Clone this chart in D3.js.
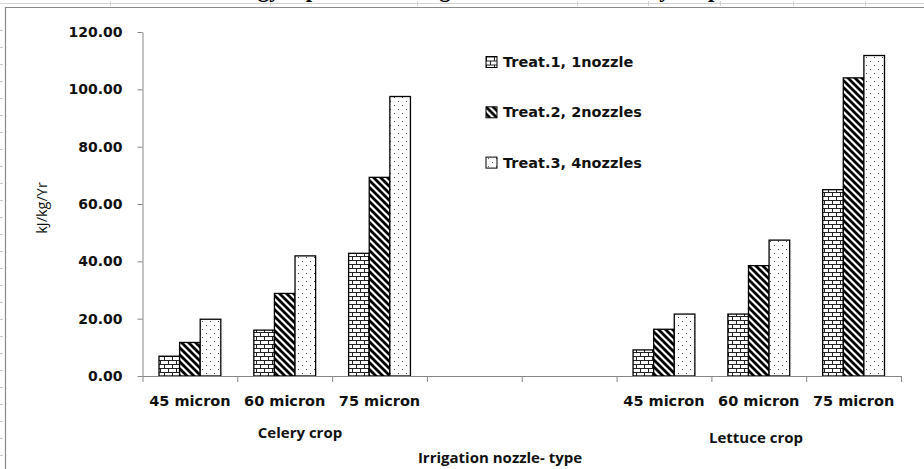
<!DOCTYPE html>
<html>
<head>
<meta charset="utf-8">
<script src="https://cdn.jsdelivr.net/npm/d3@7"></script>
<style>
  body { margin: 0; background: #fff; }
  svg { display: block; }
</style>
</head>
<body>
<svg width="924" height="469"></svg>
<script>
// data
var slots = ["c45", "c60", "c75", "gap1", "gap2", "l45", "l60", "l75"];
var slotLabels = ["45 micron", "60 micron", "75 micron", "", "", "45 micron", "60 micron", "75 micron"];
var groups = ["Celery crop", "Lettuce crop"];
var series = ["Treat.1, 1nozzle", "Treat.2, 2nozzles", "Treat.3, 4nozzles"];
var treat1 = [6.9, 16.0, 42.8, null, null, 9.1, 21.6, 65.0];
var treat2 = [11.7, 28.8, 69.3, null, null, 16.3, 38.5, 104.0];
var treat3 = [19.8, 41.9, 97.5, null, null, 21.6, 47.4, 111.8];
var yTicks = [0, 20, 40, 60, 80, 100, 120];

var values = [treat1, treat2, treat3];

var svg = d3.select("svg");
var defs = svg.append("defs");

// brick pattern
var pb = defs.append("pattern").attr("id", "p0")
    .attr("patternUnits", "userSpaceOnUse").attr("width", 8).attr("height", 8);
pb.append("rect").attr("width", 8).attr("height", 8).attr("fill", "#fff");
pb.append("path")
    .attr("d", "M0,0.5H8M0,4.5H8M0.5,0.5V4.5M4.5,4.5V8")
    .attr("stroke", "#222").attr("stroke-width", 1).attr("fill", "none");

// wide downward diagonal
var pd = defs.append("pattern").attr("id", "p1")
    .attr("patternUnits", "userSpaceOnUse").attr("width", 7).attr("height", 7);
pd.append("rect").attr("width", 7).attr("height", 7).attr("fill", "#fff");
pd.append("path")
    .attr("d", "M-1,-1L8,8M-1,6L1,8M6,-1L8,1")
    .attr("stroke", "#000").attr("stroke-width", 2.8);

// sparse dots
var pp = defs.append("pattern").attr("id", "p2")
    .attr("patternUnits", "userSpaceOnUse").attr("width", 8).attr("height", 8);
pp.append("rect").attr("width", 8).attr("height", 8).attr("fill", "#fff");
pp.append("rect").attr("x", 2).attr("y", 1).attr("width", 1).attr("height", 1).attr("fill", "#444");
pp.append("rect").attr("x", 6).attr("y", 5).attr("width", 1).attr("height", 1).attr("fill", "#444");

// spreadsheet bits behind the chart
svg.append("line").attr("x1", 0).attr("x2", 924).attr("y1", 3.5).attr("y2", 3.5)
    .attr("stroke", "#d4d4d4");
svg.append("g").selectAll("line")
    .data([110, 270, 417, 577, 648, 720, 793, 865])
    .enter().append("line")
    .attr("x1", function(d) { return d + 0.5; }).attr("x2", function(d) { return d + 0.5; })
    .attr("y1", 1).attr("y2", 6)
    .attr("stroke", "#d4d4d4");
// title is cut off by the sheet edge, only descenders show
svg.append("text")
    .attr("x", 465).attr("y", -3)
    .attr("text-anchor", "middle")
    .style("font-family", "'Liberation Serif', serif")
    .style("font-weight", "bold")
    .style("font-size", "23px")
    .text("Energy input of the irrigation nozzles for every crop");

svg.append("path")
    .attr("d", "M5.5,469V7.5H924")
    .attr("fill", "none").attr("stroke", "#8a8a8a").attr("stroke-width", 1.2);

svg.append("g").selectAll("line")
    .data(d3.range(30, 469, 17))
    .enter().append("line")
    .attr("x1", 0).attr("x2", 3).attr("y1", function(d) { return d + 0.5; }).attr("y2", function(d) { return d + 0.5; })
    .attr("stroke", "#c8c8c8");

var x0 = 142.5, x1 = 901;
var y = d3.scaleLinear().domain([0, 120]).range([376, 32]);
var x = d3.scaleBand().domain(slots).range([x0, x1]);
var xs = d3.scaleBand().domain(d3.range(3)).range([16.5, x.bandwidth() - 16.5]);
var xEdge = d3.scaleLinear().domain([0, slots.length]).range([x0, x1]);

// y axis
var gy = svg.append("g")
    .attr("transform", "translate(" + x0 + ",0)")
    .call(d3.axisLeft(y).tickValues(yTicks).tickFormat(d3.format(".2f")).tickSize(5).tickSizeOuter(0));
gy.select(".domain").attr("stroke", "#868686");
gy.selectAll(".tick line").attr("stroke", "#868686");
gy.selectAll(".tick text")
    .attr("x", -20)
    .style("font-family", "'DejaVu Sans', sans-serif")
    .style("font-weight", "bold")
    .style("font-size", "14px")
    .attr("fill", "#111");

// bars
svg.append("g").selectAll("g")
    .data(values)
    .enter().append("g")
    .attr("fill", function(d, i) { return "url(#p" + i + ")"; })
    .each(function(vals, si) {
      d3.select(this).selectAll("rect")
        .data(vals.map(function(v, k) { return {slot: slots[k], v: v}; }).filter(function(d) { return d.v != null; }))
        .enter().append("rect")
        .attr("x", function(d) { return x(d.slot) + xs(si); })
        .attr("width", xs.bandwidth())
        .attr("y", function(d) { return y(d.v); })
        .attr("height", function(d) { return y(0) - y(d.v); })
        .attr("stroke", "#000")
        .attr("stroke-width", 1.3);
    });

// x axis
var gx = svg.append("g")
    .attr("transform", "translate(0," + y(0) + ")")
    .call(d3.axisBottom(xEdge).tickValues(d3.range(slots.length + 1)).tickFormat("").tickSize(6).tickSizeOuter(0));
gx.select(".domain").attr("stroke", "#868686");
gx.selectAll(".tick line").attr("stroke", "#868686");

svg.append("g").selectAll("text")
    .data(slots)
    .enter().append("text")
    .attr("x", function(d) { return x(d) + x.bandwidth() / 2; })
    .attr("y", 406)
    .attr("text-anchor", "middle")
    .style("font-family", "'DejaVu Sans', sans-serif")
    .style("font-weight", "bold")
    .style("font-size", "14.5px")
    .attr("fill", "#111")
    .text(function(d, i) { return slotLabels[i]; });

var groupText = svg.append("g")
    .style("font-family", "'Open Sans', sans-serif")
    .style("font-weight", "bold")
    .style("font-size", "15px")
    .attr("fill", "#111")
    .attr("text-anchor", "middle");
groupText.append("text").attr("x", 300).attr("y", 438).text(groups[0]);
groupText.append("text").attr("x", 756).attr("y", 443).text(groups[1]);
groupText.append("text").attr("x", 500).attr("y", 463).text("Irrigation nozzle- type");

svg.append("text")
    .attr("transform", "translate(47,208) rotate(-90)")
    .attr("text-anchor", "middle")
    .style("font-family", "'Open Sans', sans-serif")
    .style("font-size", "14.5px")
    .attr("fill", "#111")
    .text("kJ/kg/Yr");

// legend
var legend = svg.append("g").selectAll("g")
    .data(series)
    .enter().append("g")
    .attr("transform", function(d, i) { return "translate(486," + (56.5 + i * 50.3) + ")"; });
legend.append("rect")
    .attr("width", 11).attr("height", 11)
    .attr("fill", function(d, i) { return "url(#p" + i + ")"; })
    .attr("stroke", "#000");
legend.append("text")
    .attr("x", 17).attr("y", 10.5)
    .style("font-family", "'DejaVu Sans', sans-serif")
    .style("font-weight", "bold")
    .style("font-size", "14.5px")
    .attr("fill", "#111")
    .text(function(d) { return d; });
</script>
</body>
</html>
